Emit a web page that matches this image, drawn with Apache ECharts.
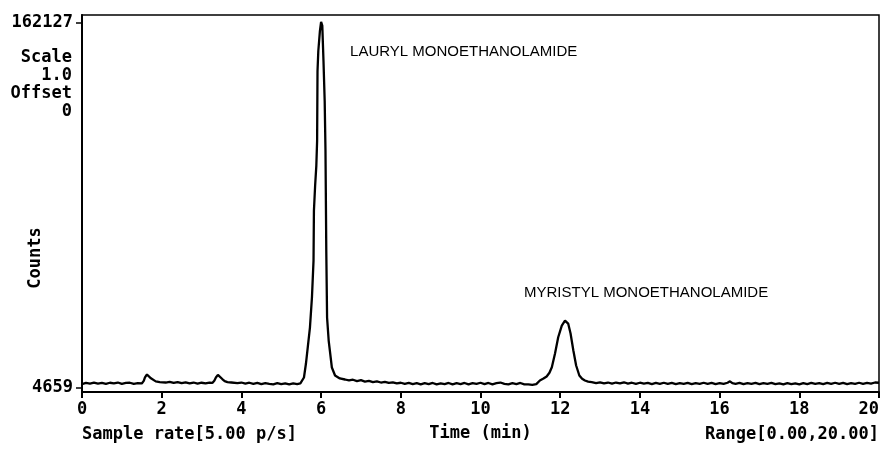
<!DOCTYPE html>
<html>
<head>
<meta charset="utf-8">
<script src="https://cdn.jsdelivr.net/npm/echarts@6/dist/echarts.min.js"></script>
<style>
html,body{margin:0;padding:0;background:#fff;}
#chart{width:883px;height:449px;}
</style>
</head>
<body>
<div id="chart"></div>
<script>
// Retention time (min)
var times = [
 0.0,0.1,0.2,0.3,0.4,0.5,0.6,0.7,0.8,0.9,1.0,1.1,1.2,1.3,1.4,1.5,
 1.55,1.58,1.63,1.68,1.73,1.78,1.85,1.95,
 2.0,2.1,2.2,2.3,2.4,2.5,2.6,2.7,2.8,2.9,3.0,3.1,3.2,3.27,
 3.32,3.36,3.41,3.46,3.52,3.58,3.65,3.75,
 3.8,3.9,4.0,4.1,4.2,4.3,4.4,4.5,4.6,4.7,4.8,4.9,5.0,5.1,5.2,5.3,5.4,5.48,
 5.52,5.57,5.62,5.67,5.72,5.77,5.81,5.82,5.85,5.88,5.90,5.91,5.93,5.97,6.00,
 6.03,6.06,6.09,6.11,6.13,6.15,6.19,6.22,6.27,6.35,6.47,6.6,6.7,
 6.8,6.9,7.0,7.1,7.2,7.3,7.4,7.5,7.6,7.7,7.8,7.9,8.0,8.1,8.2,8.3,8.4,8.5,8.6,8.7,8.8,8.9,
 9.0,9.1,9.2,9.3,9.4,9.5,9.6,9.7,9.8,9.9,10.0,10.1,10.2,10.3,10.4,10.5,10.6,10.7,10.8,10.9,
 11.0,11.1,11.2,11.3,11.4,
 11.49,11.58,11.66,11.73,11.79,11.87,11.95,12.04,12.12,12.20,12.26,12.33,12.40,12.48,12.55,12.62,12.70,12.79,
 12.9,13.0,13.1,13.2,13.3,13.4,13.5,13.6,13.7,13.8,13.9,14.0,14.1,14.2,14.3,14.4,14.5,14.6,14.7,14.8,14.9,
 15.0,15.1,15.2,15.3,15.4,15.5,15.6,15.7,15.8,15.9,16.0,16.1,16.2,16.26,16.32,16.4,16.5,16.6,16.7,16.8,16.9,
 17.0,17.1,17.2,17.3,17.4,17.5,17.6,17.7,17.8,17.9,18.0,18.1,18.2,18.3,18.4,18.5,18.6,18.7,18.8,18.9,
 19.0,19.1,19.2,19.3,19.4,19.5,19.6,19.7,19.8,19.9,20.0
];
// Detector counts
var counts = [
 6100,6600,6300,6700,6300,6600,6200,6700,6400,6800,6200,6600,6700,6200,6500,6400,
 7500,9000,10267,9700,8600,7900,7300,7000,
 7300,6800,7100,6600,7000,6500,6900,6400,6800,6300,6700,6400,6800,6600,
 7600,9000,10100,9600,8300,7400,7000,6800,
 7000,6500,6800,6300,6700,6200,6600,6100,6500,6200,6000,6500,6100,6400,6000,6400,6100,6400,
 6816,8973,15013,22778,30543,43485,59447,81015,91800,100428,111213,141411,150039,158667,162600,
 161000,145725,128469,106899,63759,34857,24935,20621,13287,9836,8541,8100,7700,
 8000,7400,7800,7200,7500,7000,7300,6800,7100,6600,6900,6400,6700,6200,6600,6100,6500,6000,6500,6100,6600,6000,
 6400,6100,6600,6000,6500,6100,6600,6000,6500,6200,6700,6100,6600,6000,6500,6800,6200,6000,6500,6100,
 6600,6000,6000,5800,6100,
 7679,8500,9404,11000,13416,19327,26358,31406,33563,32268,27955,20621,14150,9836,8400,7679,7200,6945,
 6500,6900,6400,6800,6300,6800,6400,6900,6300,6700,6200,6700,6300,6600,6100,6600,6200,6700,6200,6600,6100,
 6500,6200,6600,6100,6500,6200,6700,6200,6600,6100,6500,6200,6700,7300,6500,6200,6600,6100,6500,6200,6600,
 6100,6500,6200,6600,6100,6400,6000,6500,6100,6400,6000,6500,6100,6600,6200,6500,6100,6600,6200,6700,
 6200,6600,6100,6500,6200,6700,6200,6600,6300,6800,6700
];
var yTickValues = [4659, 162127];
var xTickValues = [0,2,4,6,8,10,12,14,16,18,20];
var sideNotes = ['Scale', '1.0', 'Offset', '0'];
var peakLabels = [
  {text: 'LAURYL MONOETHANOLAMIDE', t: 6.0, v: 162127},
  {text: 'MYRISTYL MONOETHANOLAMIDE', t: 12.12, v: 33563}
];

var MONO = '"DejaVu Sans Mono", "Liberation Mono", monospace';
var SANS = '"Liberation Sans", Arial, sans-serif';

var chart = echarts.init(document.getElementById('chart'), null, {renderer: 'canvas'});

var seriesData = times.map(function (t, i) { return [t, counts[i]]; });

var notesGraphics = sideNotes.map(function (s, i) {
  return {
    type: 'text', right: 883 - 72, top: 49 + i * 18,
    style: {text: s, font: 'bold 17px ' + MONO, fill: '#000', textAlign: 'right'}
  };
});

var option = {
  animation: false,
  backgroundColor: '#fff',
  grid: {left: 82, right: 4, top: 15, bottom: 57, show: true, borderColor: '#000', borderWidth: 1.5,
    containLabel: false, outerBoundsMode: 'none'},
  xAxis: {
    type: 'value', min: 0, max: 20, interval: 2,
    name: 'Time (min)', nameLocation: 'middle', nameGap: 33,
    nameTextStyle: {fontFamily: MONO, fontWeight: 'bold', fontSize: 17, color: '#000'},
    axisLine: {show: true, lineStyle: {color: '#000', width: 2}},
    axisTick: {show: true, length: 6, inside: false, lineStyle: {color: '#000', width: 2}, customValues: xTickValues},
    axisLabel: {color: '#000', fontFamily: MONO, fontWeight: 'bold', fontSize: 17, margin: 9, customValues: xTickValues,
      alignMaxLabel: 'right'},
    splitLine: {show: false}
  },
  yAxis: {
    type: 'value', min: 2700, max: 165600,
    axisLine: {show: true, lineStyle: {color: '#000', width: 2}},
    axisTick: {show: true, length: 6, lineStyle: {color: '#000', width: 1.5}, customValues: yTickValues},
    axisLabel: {color: '#000', fontFamily: MONO, fontWeight: 'bold', fontSize: 17, margin: 9, customValues: yTickValues,
      formatter: function (v) { return String(v); }},
    splitLine: {show: false}
  },
  graphic: notesGraphics.concat([
    {type: 'text', left: 82, top: 426, style: {text: 'Sample rate[5.00 p/s]', font: 'bold 17px ' + MONO, fill: '#000'}},
    {type: 'text', right: 4, top: 426, style: {text: 'Range[0.00,20.00]', font: 'bold 17px ' + MONO, fill: '#000'}},
    {type: 'text', x: 36, y: 258, rotation: Math.PI / 2,
     style: {text: 'Counts', font: 'bold 17px ' + MONO, fill: '#000', textAlign: 'center', textVerticalAlign: 'middle'}}
  ]),
  series: [{
    type: 'line',
    data: seriesData,
    showSymbol: false,
    smooth: false,
    lineStyle: {color: '#000', width: 2.3}
  }]
};
chart.setOption(option);

// place peak labels relative to the peaks via the library's coordinate conversion
var g = option.graphic.slice();
var p1 = chart.convertToPixel({gridIndex: 0}, [peakLabels[0].t, peakLabels[0].v]);
var p2 = chart.convertToPixel({gridIndex: 0}, [peakLabels[1].t, peakLabels[1].v]);
g.push({type: 'text', x: p1[0] + 29, y: p1[1] + 29, style: {text: peakLabels[0].text, font: '15px ' + SANS, fill: '#000', textVerticalAlign: 'middle'}});
g.push({type: 'text', x: p2[0] - 41, y: p2[1] - 28, style: {text: peakLabels[1].text, font: '15px ' + SANS, fill: '#000', textVerticalAlign: 'middle'}});
chart.setOption({graphic: g});
</script>
</body>
</html>
